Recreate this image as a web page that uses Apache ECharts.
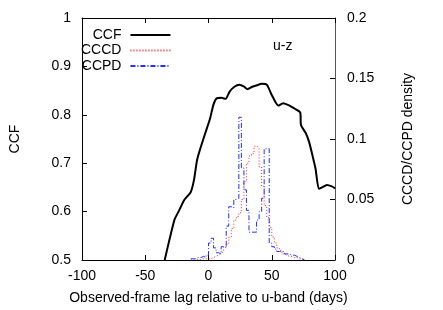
<!DOCTYPE html>
<html><head><meta charset="utf-8">
<script src="https://cdn.jsdelivr.net/npm/echarts@6/dist/echarts.min.js"></script>
<style>html,body{margin:0;padding:0;background:#fff}#c{width:443px;height:310px}</style>
</head><body><div id="c"></div>
<script>
// x-axis ticks (days) and y-axis ticks
const xTicks = [-100, -50, 0, 50, 100];
const yLeftTicks = [0.5, 0.6, 0.7, 0.8, 0.9, 1];
const yRightTicks = [0, 0.05, 0.1, 0.15, 0.2];

// CCF curve
const ccfLag = [-34.6,-26.9,-23.1,-19.2,-14.1,-11.5,-9.0,-6.4,-1.3,1.3,3.8,6.4,10.2,13.6,16.7,20.5,24.4,28.2,30.8,34.6,37.2,42.3,46.2,50.0,55.2,59.0,64.1,67.9,72.5,73.1,76.9,79.5,82.1,84.6,87.2,89.8,93.6,97.5,100];
const ccfVal = [0.5,0.583,0.603,0.624,0.640,0.665,0.707,0.731,0.772,0.793,0.820,0.834,0.835,0.833,0.848,0.858,0.862,0.858,0.853,0.858,0.860,0.864,0.862,0.841,0.819,0.824,0.819,0.813,0.805,0.779,0.762,0.744,0.717,0.689,0.647,0.650,0.655,0.652,0.648];

// histogram bins (left edges, days) and densities
const binEdges = [-14,-12,-10,-8,-6,-4,-2,0,2,4,6,8,10,12,14,16,18,20,22,24,26,28,30,32,34,36,38,40,42,44,46,48,50,52,54,56,58,60,62,64,66,68,70,72,74];
const binRightEnd = 76;
const cccd = [0,0,0.0005,0.0005,0.001,0.001,0.001,0.001,0.002,0.003,0.004,0.0055,0.007,0.011,0.013,0.019,0.026,0.033,0.036,0.039,0.050,0.065,0.080,0.086,0.088,0.094,0.093,0.077,0.061,0.045,0.035,0.027,0.019,0.014,0.010,0.008,0.005,0.004,0.003,0.003,0.002,0.002,0.001,0.001,0.0005];
const ccpd = [0.001,0.001,0.002,0.002,0.003,0.002,0.004,0.014,0.018,0.010,0.006,0.005,0.011,0.010,0.028,0.044,0.043,0.050,0.051,0.118,0.076,0.058,0.041,0.023,0.023,0.023,0.033,0.040,0.051,0.092,0.092,0.014,0.011,0.009,0.007,0.007,0.007,0.005,0.005,0.004,0.004,0.003,0.002,0.001,0.000];

function hist(vals){
  const d = binEdges.map((e,i)=>[e, vals[i]]);
  d.push([binRightEnd, 0]);
  return d;
}
const FONT = 'Liberation Sans, Arial, sans-serif';
const chart = echarts.init(document.getElementById('c'), null, {renderer:'canvas'});
const tickStyle = {inside:true, length:5, lineStyle:{color:'#000', width:1}};
chart.setOption({
  animation:false,
  backgroundColor:'#fff',
  textStyle:{fontFamily:FONT},
  grid:{left:75, right:108, top:18, bottom:50, containLabel:false},
  title:{text:'u-z', left:268, top:34, textStyle:{fontSize:14, fontWeight:'normal', color:'#000', fontFamily:FONT}},
  legend:{
    data:['CCF','CCCD','CCPD'], orient:'vertical', align:'right',
    left:76, top:23, itemWidth:40, itemHeight:14, itemGap:1.5,
    itemStyle:{opacity:0, color:'transparent', borderWidth:0},
    textStyle:{fontSize:14, color:'#000', fontFamily:FONT, padding:[0,4,0,0]}
  },
  xAxis:[{
    type:'value', min:xTicks[0], max:xTicks[xTicks.length-1], interval:xTicks[1]-xTicks[0],
    position:'bottom',
    name:'Observed-frame lag relative to u-band (days)', nameLocation:'middle', nameGap:31,
    nameTextStyle:{fontSize:14, color:'#000', fontFamily:FONT},
    axisLine:{show:true, onZero:false, lineStyle:{color:'#000', width:1}},
    axisTick:tickStyle, splitLine:{show:false},
    axisLabel:{fontSize:14, color:'#000', margin:9, fontFamily:FONT}
  },{
    type:'value', min:xTicks[0], max:xTicks[xTicks.length-1], interval:xTicks[1]-xTicks[0],
    position:'top',
    axisLine:{show:true, onZero:false, lineStyle:{color:'#000', width:1}},
    axisTick:tickStyle, splitLine:{show:false}, axisLabel:{show:false}
  }],
  yAxis:[{
    type:'value', min:yLeftTicks[0], max:yLeftTicks[yLeftTicks.length-1], interval:0.1,
    position:'left',
    name:'CCF', nameLocation:'middle', nameGap:60,
    nameTextStyle:{fontSize:14, color:'#000', fontFamily:FONT},
    axisLine:{show:true, onZero:false, lineStyle:{color:'#000', width:1}},
    axisTick:tickStyle, splitLine:{show:false},
    axisLabel:{fontSize:14, color:'#000', margin:11, fontFamily:FONT}
  },{
    type:'value', min:yRightTicks[0], max:yRightTicks[yRightTicks.length-1], interval:0.05,
    position:'right',
    name:'CCCD/CCPD density', nameLocation:'middle', nameGap:66,
    nameTextStyle:{fontSize:14, color:'#000', fontFamily:FONT},
    axisLine:{show:true, onZero:false, lineStyle:{color:'#555', width:1}},
    axisTick:tickStyle, splitLine:{show:false},
    axisLabel:{fontSize:14, color:'#000', margin:12, fontFamily:FONT}
  }],
  series:[{
    name:'CCF', type:'line', xAxisIndex:0, yAxisIndex:0,
    data: ccfLag.map((x,i)=>[x, ccfVal[i]]),
    symbol:'none', smooth:0.2, lineStyle:{color:'#000', width:2}, itemStyle:{color:'#000'}
  },{
    name:'CCCD', type:'line', xAxisIndex:0, yAxisIndex:1, step:'end',
    data: hist(cccd), symbol:'none',
    lineStyle:{color:'#ff2020', width:1, type:[1,2]}, itemStyle:{color:'#ff2020'}
  },{
    name:'CCPD', type:'line', xAxisIndex:0, yAxisIndex:1, step:'end',
    data: hist(ccpd), symbol:'none',
    lineStyle:{color:'#2030ff', width:1, type:[5,2,1,2]}, itemStyle:{color:'#2030ff'}
  }]
});
</script></body></html>
